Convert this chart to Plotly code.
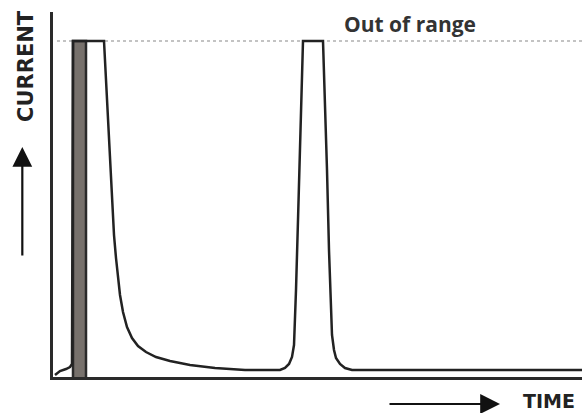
import plotly.graph_objects as go

# Data (time units ~ pixels from y-axis, current units ~ pixels above x-axis)
time = [2, 7, 13, 17, 19, 20, 51, 53, 55, 57, 59, 61, 63, 65, 67, 70, 74, 79, 85, 93,
        103, 117, 137, 162, 192, 227, 232, 236, 239, 241, 242, 243, 245, 247, 249, 250,
        270, 272, 274, 276, 278, 279, 281, 283, 287, 292, 299, 529]
current = [2, 6, 8, 10, 13, 336, 336, 297, 247, 207, 172, 142, 119, 99, 82, 65, 50, 39, 31, 25,
           20, 16, 12, 9, 7, 7, 9, 13, 20, 32, 57, 87, 157, 237, 297, 336,
           336, 277, 207, 127, 67, 42, 27, 19, 13, 9, 7, 7]
spike_time = [20, 20, 33, 33]
spike_current = [0, 336, 336, 0]
out_of_range = 336

fig = go.Figure()
fig.add_trace(go.Scatter(x=spike_time, y=spike_current, mode="lines", fill="toself",
                         fillcolor="#77716c", line=dict(color="#2a2a2a", width=2.5),
                         hoverinfo="skip"))
fig.add_trace(go.Scatter(x=time, y=current, mode="lines",
                         line=dict(color="#222222", width=2.5),
                         hoverinfo="skip"))
fig.add_shape(type="line", x0=4, x1=529, y0=out_of_range, y1=out_of_range, layer="below",
              line=dict(color="#b0b0b0", width=1.5, dash="dot"))

fig.add_annotation(x=0.546, y=0.968, xref="paper", yref="paper", text="<b>Out of range</b>",
                   showarrow=False, xanchor="left", yanchor="middle",
                   font=dict(family="Open Sans", size=21, color="#333"))
fig.add_annotation(x=-0.05, y=1.01, xref="paper", yref="paper", text="<b>CURRENT</b>",
                   showarrow=False, textangle=-90, xanchor="center", yanchor="top",
                   font=dict(family="DejaVu Sans", size=21, color="#222"))
fig.add_annotation(x=-0.058, y=0.63, xref="paper", yref="paper", text="",
                   showarrow=True, ax=0, ay=110, arrowhead=2, arrowsize=1.8,
                   arrowwidth=2.2, arrowcolor="#111")
fig.add_annotation(x=0.845, y=-0.074, xref="paper", yref="paper", text="",
                   showarrow=True, ax=-112, ay=0, arrowhead=2, arrowsize=1.8,
                   arrowwidth=2.2, arrowcolor="#111")
fig.add_annotation(x=0.886, y=-0.066, xref="paper", yref="paper", text="<b>TIME</b>",
                   showarrow=False, xanchor="left", yanchor="middle", borderpad=0,
                   font=dict(family="DejaVu Sans", size=19, color="#222"))

fig.update_layout(
    width=582, height=413, showlegend=False,
    margin=dict(l=53, r=0, t=12, b=36),
    paper_bgcolor="white", plot_bgcolor="white",
    xaxis=dict(range=[0, 529], showgrid=False, zeroline=False, showticklabels=False,
               ticks="", showline=True, linecolor="#2a2a2a", linewidth=2.5),
    yaxis=dict(range=[0, 365], showgrid=False, zeroline=False, showticklabels=False,
               ticks="", showline=True, linecolor="#2a2a2a", linewidth=2.5),
)
fig.write_html("out.html", config={"displayModeBar": False},
               post_script="document.body.style.margin='0';document.body.style.overflow='hidden';")
